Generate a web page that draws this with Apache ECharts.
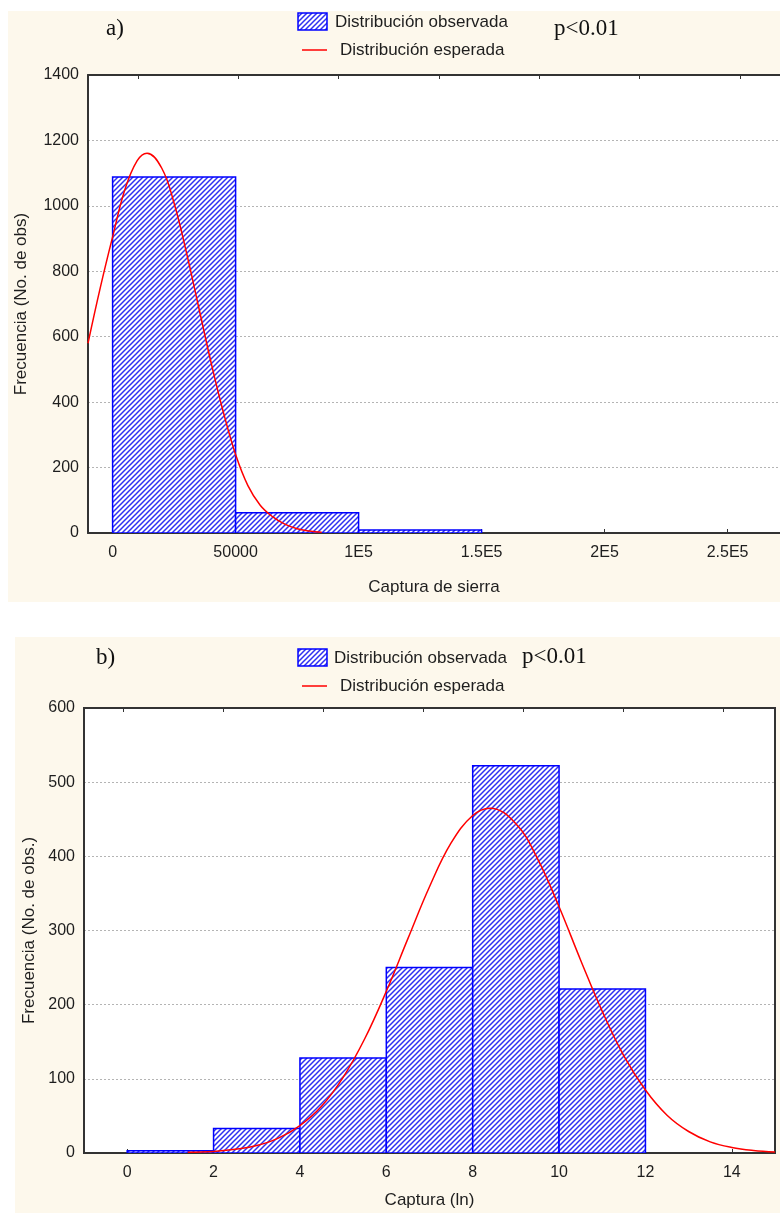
<!DOCTYPE html>
<html>
<head>
<meta charset="utf-8">
<script src="https://cdn.jsdelivr.net/npm/echarts@6/dist/echarts.min.js"></script>
<style>
  html, body { margin: 0; padding: 0; background: #ffffff; }
  #chart { width: 780px; height: 1213px; }
</style>
</head>
<body>
<div id="chart"></div>
<script>
// Panel a) — raw catch histogram
const aBinStart = [0, 50000, 100000];
const aBinEnd = [50000, 100000, 150000];
const aCounts = [1088, 62, 9];
const aCurveX = [-10000, -5000, 0, 5000, 10000, 14000, 20000, 25000, 30000, 35000, 40000, 45000, 50000, 55000, 60000, 65000, 70000, 75000, 80000, 85000];
const aCurveY = [580, 750, 905, 1050, 1138, 1161, 1115, 1008, 858, 690, 522, 370, 240, 145, 85, 50, 27, 13, 6, 2];
const aTickValues = [0, 50000, 100000, 150000, 200000, 250000];
const aTickLabels = ['0', '50000', '1E5', '1.5E5', '2E5', '2.5E5'];

// Panel b) — log-transformed catch histogram
const bBinStart = [0, 2, 4, 6, 8, 10];
const bBinEnd = [2, 4, 6, 8, 10, 12];
const bCounts = [3, 33, 128, 250, 522, 221];
const bCurveX = [1.4, 2, 2.5, 3, 3.5, 4, 4.5, 5, 5.5, 6, 6.5, 7, 7.5, 8, 8.4, 9, 9.5, 10, 10.5, 11, 11.5, 12, 12.5, 13, 13.5, 14, 14.5, 15];
const bCurveY = [1, 2, 5, 10, 20, 37, 63, 102, 154, 218, 289, 359, 418, 455, 465, 444, 397, 332, 260, 191, 131, 85, 51, 29, 15, 7.5, 3.5, 1.5];
const bTickValues = [0, 2, 4, 6, 8, 10, 12, 14];

const legendObserved = 'Distribución observada';
const legendExpected = 'Distribución esperada';

// diagonal hatch tile used for the observed bars
function makeHatch() {
  const s = 5;
  const c = document.createElement('canvas');
  c.width = s; c.height = s;
  const g = c.getContext('2d');
  g.fillStyle = '#ffffff';
  g.fillRect(0, 0, s, s);
  g.strokeStyle = '#2f2ff2';
  g.lineWidth = 1.5;
  g.beginPath();
  g.moveTo(-1, s + 1); g.lineTo(s + 1, -1);
  g.moveTo(-1, 1); g.lineTo(1, -1);
  g.moveTo(s - 1, s + 1); g.lineTo(s + 1, s - 1);
  g.stroke();
  return c;
}
const hatch = { image: makeHatch(), repeat: 'repeat' };

const zip = (a, b) => a.map((v, i) => [v, b[i]]);
const bins = (s, e, n) => s.map((v, i) => [v, e[i], n[i]]);

function renderBar(params, api) {
  const p0 = api.coord([api.value(0), api.value(2)]);
  const p1 = api.coord([api.value(1), 0]);
  return {
    type: 'rect',
    shape: { x: p0[0], y: p0[1], width: p1[0] - p0[0], height: p1[1] - p0[1] },
    style: { fill: hatch, stroke: '#0000ff', lineWidth: 1.5 }
  };
}

const txt = '#1e1e1e';
const axisDark = { onZero: false, lineStyle: { color: '#333333', width: 2 } };
const sans = 'Liberation Sans, Arial, sans-serif';
const serif = 'Liberation Serif, Times New Roman, serif';
const tickFont = 16;
const titleFont = 17;

function legendBlock(tag, tagX, tagY, pX, pY, top, obsTextX) {
  return [
    { type: 'text', left: tagX, top: tagY, style: { text: tag, font: '23px ' + serif, fill: '#111' } },
    { type: 'text', left: pX, top: pY, style: { text: 'p<0.01', font: '23px ' + serif, fill: '#111' } },
    { type: 'rect', shape: { x: 298, y: top, width: 29, height: 17 }, style: { fill: hatch, stroke: '#0000ff', lineWidth: 1.5 } },
    { type: 'text', x: obsTextX, y: top + 9, style: { text: legendObserved, font: titleFont + 'px ' + sans, fill: txt, verticalAlign: 'middle' } },
    { type: 'line', shape: { x1: 302, y1: top + 37, x2: 327, y2: top + 37 }, style: { stroke: '#ff0000', lineWidth: 1.5 } },
    { type: 'text', x: 340, y: top + 37, style: { text: legendExpected, font: titleFont + 'px ' + sans, fill: txt, verticalAlign: 'middle' } }
  ];
}

const chart = echarts.init(document.getElementById('chart'), null, { renderer: 'canvas' });

chart.setOption({
  animation: false,
  backgroundColor: '#ffffff',
  graphic: [
    { type: 'rect', z: -100, shape: { x: 8, y: 11, width: 772, height: 591 }, style: { fill: '#fdf8ec' } },
    { type: 'rect', z: -100, shape: { x: 15, y: 637, width: 765, height: 576 }, style: { fill: '#fdf8ec' } },
    ...legendBlock('a)', 106, 17, 554, 17, 13, 335),
    ...legendBlock('b)', 96, 646, 522, 645, 649, 334)
  ],
  grid: [
    { left: 88, top: 75, width: 692, height: 458, show: true, backgroundColor: '#ffffff', borderWidth: 0 },
    { left: 84, top: 708, width: 691, height: 445, show: true, backgroundColor: '#ffffff', borderColor: '#333333', borderWidth: 2 }
  ],
  xAxis: [
    {
      gridIndex: 0, type: 'value', min: -10000, max: 271300,
      axisLine: axisDark,
      axisTick: { inside: true, length: 4, lineStyle: { color: '#333' }, customValues: aTickValues },
      axisLabel: {
        customValues: aTickValues, margin: 12, color: txt, fontSize: tickFont, fontFamily: sans,
        formatter: v => aTickLabels[aTickValues.indexOf(v)]
      },
      splitLine: { show: false },
      name: 'Captura de sierra', nameLocation: 'middle', nameGap: 46,
      nameTextStyle: { color: txt, fontSize: titleFont, fontFamily: sans }
    },
    {
      gridIndex: 0, type: 'value', position: 'top', min: 0, max: 6.9,
      axisLine: axisDark,
      axisTick: { inside: true, length: 4, lineStyle: { color: '#333' }, customValues: [0.5, 1.5, 2.5, 3.5, 4.5, 5.5, 6.5] },
      axisLabel: { show: false }, splitLine: { show: false }
    },
    {
      gridIndex: 1, type: 'value', min: -1, max: 15,
      axisLine: axisDark,
      axisTick: { inside: true, length: 4, lineStyle: { color: '#333' }, customValues: bTickValues },
      axisLabel: { customValues: bTickValues, margin: 12, color: txt, fontSize: tickFont, fontFamily: sans },
      splitLine: { show: false },
      name: 'Captura (ln)', nameLocation: 'middle', nameGap: 39,
      nameTextStyle: { color: txt, fontSize: titleFont, fontFamily: sans }
    },
    {
      gridIndex: 1, type: 'value', position: 'top', min: 0, max: 6.91,
      axisLine: axisDark,
      axisTick: { inside: true, length: 4, lineStyle: { color: '#333' }, customValues: [0.39, 1.39, 2.39, 3.39, 4.39, 5.39, 6.39] },
      axisLabel: { show: false }, splitLine: { show: false }
    }
  ],
  yAxis: [
    {
      gridIndex: 0, type: 'value', min: 0, max: 1400, interval: 200,
      axisLine: { show: true, onZero: false, lineStyle: { color: '#333333', width: 2 } },
      axisTick: { show: false },
      axisLabel: { margin: 9, color: txt, fontSize: tickFont, fontFamily: sans, formatter: v => String(v) },
      splitLine: { show: true, lineStyle: { color: '#b4b4b4', type: [2, 2], width: 1 } },
      name: 'Frecuencia (No. de obs)', nameLocation: 'middle', nameGap: 58,
      nameTextStyle: { color: txt, fontSize: titleFont, fontFamily: sans }
    },
    {
      gridIndex: 1, type: 'value', min: 0, max: 600, interval: 100,
      axisLine: { show: true, onZero: false, lineStyle: { color: '#333333', width: 2 } },
      axisTick: { show: false },
      axisLabel: { margin: 9, color: txt, fontSize: tickFont, fontFamily: sans, formatter: v => String(v) },
      splitLine: { show: true, lineStyle: { color: '#b4b4b4', type: [2, 2], width: 1 } },
      name: 'Frecuencia (No. de obs.)', nameLocation: 'middle', nameGap: 46,
      nameTextStyle: { color: txt, fontSize: titleFont, fontFamily: sans }
    }
  ],
  series: [
    {
      name: legendObserved, type: 'custom', xAxisIndex: 0, yAxisIndex: 0,
      renderItem: renderBar, encode: { x: [0, 1], y: 2 }, clip: true,
      data: bins(aBinStart, aBinEnd, aCounts)
    },
    {
      name: legendExpected, type: 'line', xAxisIndex: 0, yAxisIndex: 0,
      data: zip(aCurveX, aCurveY), smooth: 0.4, showSymbol: false, clip: true,
      lineStyle: { color: '#ff0000', width: 1.5 }, z: 5
    },
    {
      name: legendObserved, type: 'custom', xAxisIndex: 2, yAxisIndex: 1,
      renderItem: renderBar, encode: { x: [0, 1], y: 2 }, clip: true,
      data: bins(bBinStart, bBinEnd, bCounts)
    },
    {
      name: legendExpected, type: 'line', xAxisIndex: 2, yAxisIndex: 1,
      data: zip(bCurveX, bCurveY), smooth: 0.4, showSymbol: false, clip: true,
      lineStyle: { color: '#ff0000', width: 1.5 }, z: 5
    }
  ]
});
</script>
</body>
</html>
